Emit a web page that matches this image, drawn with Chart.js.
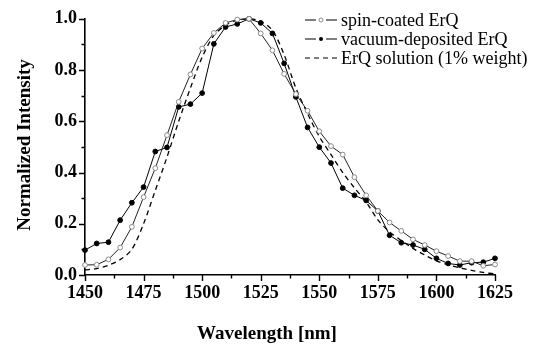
<!DOCTYPE html>
<html>
<head>
<meta charset="utf-8">
<script src="https://cdn.jsdelivr.net/npm/chart.js@4/dist/chart.umd.min.js"></script>
<style>
  html, body { margin: 0; padding: 0; background: #fff; }
  #wrap { width: 536px; height: 345px; }
</style>
</head>
<body>
<div id="wrap"><canvas id="chart" width="536" height="345"></canvas></div>
<script>
// wavelength grid [nm]
const wavelengths = [1450, 1455, 1460, 1465, 1470, 1475, 1480, 1485, 1490, 1495, 1500, 1505,
  1510, 1515, 1520, 1525, 1530, 1535, 1540, 1545, 1550, 1555, 1560, 1565,
  1570, 1575, 1580, 1585, 1590, 1595, 1600, 1605, 1610, 1615, 1620, 1625];

const spinCoated = [0.039, 0.040, 0.061, 0.107, 0.188, 0.304, 0.417, 0.546, 0.676, 0.783, 0.884, 0.945,
  0.984, 0.997, 1.000, 0.943, 0.877, 0.785, 0.706, 0.641, 0.561, 0.503, 0.470, 0.382,
  0.311, 0.250, 0.205, 0.172, 0.139, 0.117, 0.093, 0.074, 0.054, 0.054, 0.036, 0.041];

const vacuumDeposited = [0.097, 0.123, 0.128, 0.214, 0.282, 0.343, 0.482, 0.498, 0.656, 0.667, 0.710, 0.902,
  0.968, 0.980, 1.000, 0.984, 0.943, 0.826, 0.695, 0.576, 0.499, 0.437, 0.339, 0.311,
  0.291, 0.250, 0.155, 0.126, 0.117, 0.100, 0.065, 0.045, 0.039, 0.048, 0.050, 0.065];

const solution = [0.020, 0.025, 0.038, 0.060, 0.100, 0.200, 0.330, 0.460, 0.600, 0.730, 0.850, 0.935,
  0.975, 0.995, 1.000, 0.990, 0.955, 0.860, 0.730, 0.630, 0.540, 0.470, 0.400, 0.340,
  0.285, 0.215, 0.168, 0.135, 0.104, 0.078, 0.055, 0.040, 0.028, 0.018, 0.010, 0.004];

const seriesNames = ['spin-coated ErQ', 'vacuum-deposited ErQ', 'ErQ solution (1% weight)'];
const xTicks = [1450, 1475, 1500, 1525, 1550, 1575, 1600, 1625];
const yTicks = [0.0, 0.2, 0.4, 0.6, 0.8, 1.0];

const SERIF = "'Liberation Serif', 'Times New Roman', serif";

const toXY = (ys) => wavelengths.map((x, i) => ({ x, y: ys[i] }));

// minor ticks, axis titles and legend drawn by hand
const decor = {
  id: 'decor',
  afterDraw(chart) {
    const { ctx, chartArea: a, scales: { x, y } } = chart;
    ctx.save();
    ctx.strokeStyle = '#000';
    ctx.lineWidth = 1.4;
    ctx.beginPath();
    for (let v = 1450; v <= 1625; v += 12.5) {
      const px = Math.round(x.getPixelForValue(v)) + 0.5;
      const len = (v - 1450) % 25 === 0 ? 6 : 3.5;
      ctx.moveTo(px, a.bottom);
      ctx.lineTo(px, a.bottom + len);
    }
    for (let i = 0; i <= 10; i++) {
      const py = Math.round(y.getPixelForValue(i / 10)) + 0.5;
      const len = i % 2 === 0 ? 6 : 3.5;
      ctx.moveTo(a.left, py);
      ctx.lineTo(a.left - len, py);
    }
    ctx.stroke();

    // axis titles
    ctx.fillStyle = '#000';
    ctx.font = `bold 19px ${SERIF}`;
    ctx.textAlign = 'center';
    ctx.textBaseline = 'middle';
    ctx.fillText('Wavelength [nm]', 267, 334);
    ctx.save();
    ctx.translate(25, 145);
    ctx.rotate(-Math.PI / 2);
    ctx.fillText('Normalized Intensity', 0, 0);
    ctx.restore();

    // legend
    const rows = [20, 39, 58];
    const x0 = 305, x1 = 337, xm = 321;
    ctx.font = `18px ${SERIF}`;
    ctx.textAlign = 'left';
    ctx.lineWidth = 1;
    rows.forEach((ry, i) => {
      ctx.strokeStyle = '#000';
      if (i < 2) {
        ctx.setLineDash([]);
        ctx.beginPath();
        ctx.moveTo(x0, ry); ctx.lineTo(xm - 5, ry);
        ctx.moveTo(xm + 5, ry); ctx.lineTo(x1, ry);
        ctx.stroke();
        ctx.beginPath();
        ctx.arc(xm, ry, 2, 0, Math.PI * 2);
        if (i === 0) {
          ctx.strokeStyle = '#888';
          ctx.stroke();
        } else {
          ctx.fillStyle = '#000';
          ctx.fill();
        }
      } else {
        ctx.setLineDash([5, 4]);
        ctx.beginPath();
        ctx.moveTo(x0, ry); ctx.lineTo(x1, ry);
        ctx.stroke();
        ctx.setLineDash([]);
      }
      ctx.fillStyle = '#000';
      ctx.fillText(seriesNames[i], 341, ry + 1);
    });
    ctx.restore();
  }
};

new Chart(document.getElementById('chart'), {
  type: 'line',
  data: {
    datasets: [
      {
        label: seriesNames[0],
        data: toXY(spinCoated),
        borderColor: '#222',
        borderWidth: 1,
        pointRadius: 2.4,
        pointBackgroundColor: '#fff',
        pointBorderColor: '#8a8a8a',
        pointBorderWidth: 1,
        tension: 0,
        clip: false,
      },
      {
        label: seriesNames[1],
        data: toXY(vacuumDeposited),
        borderColor: '#000',
        borderWidth: 1,
        pointRadius: 2.4,
        pointBackgroundColor: '#000',
        pointBorderColor: '#000',
        tension: 0,
        clip: false,
      },
      {
        label: seriesNames[2],
        data: toXY(solution),
        borderColor: '#000',
        borderWidth: 1.3,
        borderDash: [5, 4],
        pointRadius: 0,
        tension: 0.3,
        clip: false,
      }
    ]
  },
  options: {
    responsive: false,
    animation: false,
    devicePixelRatio: 1,
    layout: { padding: { top: 17, right: 41, left: 0, bottom: 0 } },
    plugins: {
      legend: { display: false },
      tooltip: { enabled: false }
    },
    scales: {
      x: {
        type: 'linear',
        min: 1450,
        max: 1625,
        afterFit: (s) => { s.height = 70; },
        afterBuildTicks: (s) => { s.ticks = xTicks.map(v => ({ value: v })); },
        grid: { display: false, drawTicks: false },
        border: { display: true, color: '#000', width: 1.6 },
        ticks: {
          autoSkip: false,
          maxRotation: 0,
          padding: 8,
          color: '#000',
          font: { family: SERIF, size: 18, weight: 'bold' },
          callback: (v) => String(v)
        }
      },
      y: {
        min: 0,
        max: 1.0,
        afterFit: (s) => { s.width = 85; },
        afterBuildTicks: (s) => { s.ticks = yTicks.map(v => ({ value: v })); },
        grid: { display: false, drawTicks: false },
        border: { display: true, color: '#000', width: 1.6 },
        ticks: {
          padding: 8,
          color: '#000',
          font: { family: SERIF, size: 18, weight: 'bold' },
          callback: (v) => Number(v).toFixed(1)
        }
      }
    }
  },
  plugins: [decor]
});
</script>
</body>
</html>
